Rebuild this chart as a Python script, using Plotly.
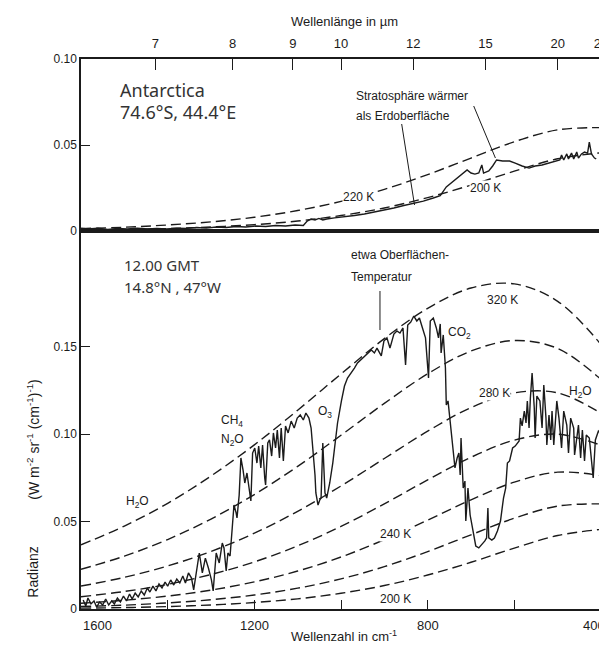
import plotly.graph_objects as go

# ---------------- data ----------------
# Planck reference curves, wavenumber grid in cm^-1
wn_grid = [1600, 1500, 1400, 1300, 1200, 1100, 1000, 900, 800, 700, 600, 500, 400]
planck_320 = [0.0367, 0.0474, 0.0604, 0.0760, 0.0938, 0.1136, 0.1343, 0.1545, 0.1718, 0.1834, 0.1858, 0.1758, 0.1512]
planck_300 = [0.0227, 0.0302, 0.0397, 0.0514, 0.0654, 0.0815, 0.0993, 0.1175, 0.1344, 0.1474, 0.1534, 0.1489, 0.1312]
planck_280 = [0.0131, 0.0181, 0.0246, 0.0329, 0.0433, 0.0558, 0.0703, 0.0860, 0.1016, 0.1151, 0.1235, 0.1235, 0.1119]
planck_260 = [0.0070, 0.0100, 0.0141, 0.0197, 0.0269, 0.0361, 0.0472, 0.0601, 0.0738, 0.0867, 0.0965, 0.0999, 0.0936]
planck_240 = [0.0033, 0.0050, 0.0074, 0.0108, 0.0155, 0.0217, 0.0297, 0.0396, 0.0508, 0.0624, 0.0725, 0.0782, 0.0762]
planck_220 = [0.0014, 0.0022, 0.0035, 0.0053, 0.0080, 0.0119, 0.0172, 0.0242, 0.0328, 0.0424, 0.0519, 0.0588, 0.0601]
planck_200 = [0.0005, 0.0008, 0.0014, 0.0023, 0.0037, 0.0058, 0.0090, 0.0134, 0.0194, 0.0267, 0.0348, 0.0420, 0.0455]

# Antarctic spectrum (upper panel)
ant_wn = [1600, 1584, 1561, 1538, 1516, 1493, 1470, 1447, 1425, 1402, 1379, 1356, 1333, 1311, 1288,
          1265, 1242, 1220, 1197, 1174, 1151, 1128, 1106, 1087, 1078, 1069, 1060, 1051, 1042, 1033,
          1015, 992, 969, 946, 923, 901, 878, 855, 832, 810, 787, 771, 757, 746, 734,
          725, 716, 709, 700, 691, 682, 675, 671, 659, 650, 641, 627, 611, 598, 582,
          566, 552, 536, 520, 507, 495, 491, 486, 479, 475, 468, 463, 456, 452, 445,
          438, 431, 427, 422, 415, 411]
ant_rad = [0.0017, 0.0012, 0.0017, 0.0009, 0.0015, 0.0012, 0.0017, 0.0012, 0.0015, 0.0012, 0.0017, 0.0015, 0.0020, 0.0017, 0.0023,
           0.0020, 0.0026, 0.0023, 0.0029, 0.0026, 0.0032, 0.0029, 0.0035, 0.0032, 0.0058, 0.0070, 0.0064, 0.0073, 0.0064, 0.0070,
           0.0076, 0.0081, 0.0090, 0.0099, 0.0110, 0.0122, 0.0134, 0.0148, 0.0160, 0.0174, 0.0192, 0.0206, 0.0256, 0.0279, 0.0302,
           0.0320, 0.0343, 0.0355, 0.0337, 0.0331, 0.0337, 0.0384, 0.0337, 0.0349, 0.0378, 0.0413, 0.0407, 0.0407, 0.0395, 0.0378,
           0.0366, 0.0378, 0.0384, 0.0395, 0.0407, 0.0413, 0.0442, 0.0413, 0.0448, 0.0419, 0.0453, 0.0419, 0.0459, 0.0424, 0.0448,
           0.0459, 0.0453, 0.0517, 0.0448, 0.0424, 0.0419]

# Tropical spectrum (lower panel), 12.00 GMT 14.8N 47W
trop_wn = [1595, 1589, 1584, 1577, 1570, 1564, 1557, 1550, 1543, 1536, 1529, 1523, 1516, 1509, 1502,
           1495, 1488, 1482, 1475, 1468, 1461, 1454, 1447, 1441, 1434, 1427, 1420, 1413, 1406, 1400,
           1393, 1386, 1379, 1372, 1365, 1359, 1352, 1345, 1340, 1333, 1327, 1320, 1313, 1306, 1299,
           1295, 1288, 1281, 1274, 1270, 1265, 1261, 1256, 1251, 1247, 1242, 1240, 1235, 1231, 1226,
           1222, 1217, 1213, 1208, 1204, 1199, 1194, 1190, 1185, 1181, 1176, 1174, 1169, 1165, 1160,
           1156, 1151, 1147, 1142, 1138, 1133, 1128, 1122, 1115, 1108, 1101, 1094, 1087, 1081, 1074,
           1069, 1065, 1060, 1058, 1053, 1049, 1046, 1042, 1037, 1033, 1026, 1019, 1015, 1008, 999,
           992, 985, 976, 969, 962, 955, 946, 939, 930, 923, 917, 907, 901, 894, 887,
           878, 871, 864, 857, 851, 846, 839, 832, 825, 819, 812, 805, 798, 794, 787,
           780, 775, 771, 769, 764, 759, 757, 753, 748, 741, 737, 732, 728, 725, 723,
           718, 714, 712, 707, 702, 696, 689, 682, 675, 668, 664, 661, 659, 652, 646,
           639, 632, 625, 620, 616, 611, 604, 598, 589, 586, 582, 577, 573, 570, 566,
           563, 559, 554, 552, 548, 541, 536, 532, 527, 525, 520, 516, 513, 509, 502,
           497, 491, 486, 479, 475, 470, 463, 461, 452, 447, 443, 438, 434, 427, 422,
           418, 413, 406, 402]
trop_rad = [0.0051, 0.0017, 0.0063, 0.0029, 0.0046, 0.0011, 0.0040, 0.0023, 0.0057, 0.0023, 0.0046, 0.0029, 0.0063, 0.0040, 0.0074,
            0.0046, 0.0086, 0.0057, 0.0091, 0.0069, 0.0103, 0.0080, 0.0120, 0.0097, 0.0131, 0.0103, 0.0143, 0.0120, 0.0154, 0.0131,
            0.0166, 0.0137, 0.0171, 0.0149, 0.0189, 0.0149, 0.0206, 0.0177, 0.0109, 0.0234, 0.0320, 0.0206, 0.0291, 0.0234, 0.0166,
            0.0103, 0.0320, 0.0263, 0.0377, 0.0349, 0.0217, 0.0320, 0.0303, 0.0463, 0.0594, 0.0549, 0.0520, 0.0651, 0.0863, 0.0794,
            0.0720, 0.0777, 0.0703, 0.0617, 0.0891, 0.0920, 0.0834, 0.0931, 0.0806, 0.0937, 0.0749, 0.0709, 0.0949, 0.0966, 0.0874,
            0.1006, 0.0920, 0.1023, 0.0863, 0.1034, 0.0846, 0.1046, 0.1006, 0.1074, 0.1034, 0.1091, 0.1109, 0.1080, 0.1120, 0.1091,
            0.1034, 0.0920, 0.0766, 0.0663, 0.0594, 0.0623, 0.0634, 0.0949, 0.0663, 0.0634, 0.0720, 0.0834, 0.0920, 0.1063, 0.1189,
            0.1274, 0.1320, 0.1349, 0.1377, 0.1406, 0.1423, 0.1446, 0.1463, 0.1480, 0.1463, 0.1491, 0.1446, 0.1531, 0.1549, 0.1491,
            0.1571, 0.1589, 0.1577, 0.1606, 0.1394, 0.1623, 0.1640, 0.1674, 0.1646, 0.1663, 0.1606, 0.1549, 0.1320, 0.1646, 0.1663,
            0.1606, 0.1549, 0.1629, 0.1463, 0.1566, 0.1377, 0.1166, 0.1189, 0.1074, 0.0920, 0.0806, 0.0863, 0.0891, 0.0766, 0.0977,
            0.0691, 0.0731, 0.0503, 0.0691, 0.0537, 0.0446, 0.0360, 0.0349, 0.0366, 0.0389, 0.0406, 0.0577, 0.0406, 0.0394, 0.0406,
            0.0446, 0.0503, 0.0634, 0.0691, 0.0834, 0.0846, 0.0920, 0.0931, 0.0960, 0.1091, 0.1046, 0.1131, 0.1063, 0.1189, 0.1034,
            0.1206, 0.1349, 0.1149, 0.0977, 0.1217, 0.1189, 0.1034, 0.1280, 0.1091, 0.0937, 0.1109, 0.0966, 0.1131, 0.0937, 0.1189,
            0.1091, 0.0920, 0.1131, 0.1051, 0.0891, 0.1091, 0.1034, 0.0880, 0.1051, 0.0863, 0.1023, 0.0846, 0.0994, 0.0977, 0.0834,
            0.0749, 0.0966, 0.1017, 0.1006]

# axis ticks
wl_tick_um = [7, 8, 9, 10, 12, 15, 20, 25]
wn_ticks = [1600, 1400, 1200, 1000, 800, 600, 400]
wn_labels = [1600, 1200, 800, 400]
top_yticks = [0, 0.05, 0.10]
top_ylabels = ["0", "0.05", "0.10"]
bot_yticks = [0, 0.05, 0.10, 0.15]
bot_ylabels = ["0", "0.05", "0.10", "0.15"]

if len(trop_wn) != len(trop_rad) or len(ant_wn) != len(ant_rad):
    raise SystemExit(f"length mismatch {len(trop_wn)} {len(trop_rad)} {len(ant_wn)} {len(ant_rad)}")

# ---------------- layout geometry ----------------
W, H = 607, 645
L, R, T, B = 73, 7, 51, 44
PW, PH = W - L - R, H - T - B
split = (H - B - 223) / PH
ink = "#1b1b1b"
FONT = "Liberation Sans"


def px(x):
    return (x - L) / PW


def py(y):
    return (H - B - y) / PH


fig = go.Figure()
dash = "10px,5px"
for vals in [planck_320, planck_300, planck_280, planck_260, planck_240, planck_220, planck_200]:
    fig.add_trace(go.Scatter(x=wn_grid, y=vals, mode="lines", xaxis="x", yaxis="y",
                             line=dict(color=ink, width=1.4, dash=dash, shape="spline"),
                             hoverinfo="skip", showlegend=False))
fig.add_trace(go.Scatter(x=trop_wn, y=trop_rad, mode="lines", xaxis="x", yaxis="y",
                         line=dict(color=ink, width=1.4), showlegend=False))
for vals in [planck_220, planck_200]:
    fig.add_trace(go.Scatter(x=wn_grid, y=vals, mode="lines", xaxis="x2", yaxis="y2",
                             line=dict(color=ink, width=1.4, dash=dash, shape="spline"),
                             hoverinfo="skip", showlegend=False))
fig.add_trace(go.Scatter(x=ant_wn, y=ant_rad, mode="lines", xaxis="x2", yaxis="y2",
                         line=dict(color=ink, width=1.4), showlegend=False))

axis_common = dict(showline=True, linecolor=ink, linewidth=1.5, mirror=True, showgrid=False,
                   zeroline=False, ticks="inside", tickcolor=ink, tickwidth=1.3,
                   tickfont=dict(family=FONT, size=12, color=ink))

fig.update_layout(
    width=W, height=H,
    margin=dict(l=L, r=R, t=T, b=B),
    paper_bgcolor="white", plot_bgcolor="white",
    showlegend=False,
    xaxis=dict(axis_common, domain=[0, 1], anchor="y", range=[1600, 400],
               tickvals=wn_ticks, showticklabels=False, ticklen=9),
    yaxis=dict(axis_common, domain=[0, split], anchor="x", range=[0, 0.216],
               tickvals=bot_yticks, ticktext=bot_ylabels, ticklen=9),
    xaxis2=dict(axis_common, domain=[0, 1], anchor="y2", range=[1600, 400], side="top",
                tickvals=[10000 / w for w in wl_tick_um], ticktext=[str(w) for w in wl_tick_um],
                ticklen=11, ticklabelstandoff=4, tickfont=dict(family=FONT, size=13, color=ink)),
    yaxis2=dict(axis_common, domain=[split, 1], anchor="x2", range=[0, 0.10],
                tickvals=top_yticks, ticktext=top_ylabels, ticklen=9),
)

ann = []


def text(x, y, s, size=12, anchor="left", family=FONT, color=ink, bg=None, angle=0):
    d = dict(x=px(x), y=py(y), xref="paper", yref="paper", text=s, showarrow=False,
             xanchor=anchor, yanchor="middle", textangle=angle,
             font=dict(family=family, size=size, color=color))
    if bg:
        d["bgcolor"] = bg
        d["borderpad"] = 0
    ann.append(d)


# bottom tick labels
for v in wn_labels:
    anchor = "left" if v == 1600 else ("right" if v == 400 else "center")
    shift = 6 if v == 400 else 0
    ann.append(dict(x=v, y=py(617), xref="x", yref="paper", text=str(v), showarrow=False,
                    xanchor=anchor, yanchor="middle", xshift=shift,
                    font=dict(family=FONT, size=13, color=ink)))

text(340, 14, "Wellenlänge in µm", 13, "center")
text(340, 628, "Wellenzahl in cm<sup>-1</sup>", 13, "center")
text(24, 564, "Radianz", 14, "center", angle=-90)
text(24, 432, "(W m<sup>-2</sup> sr<sup>-1</sup> (cm<sup>-1</sup>)<sup>-1</sup>)", 14, "center", angle=-90)

text(110, 82, "Antarctica", 18, family="Noto Sans", color="#333")
text(110, 104, "74.6°S, 44.4°E", 18, family="Noto Sans", color="#333")
text(350, 88, "Stratosphäre wärmer", 12)
text(350, 108, "als Erdoberfläche", 12)
text(338, 189, "220 K", 12, bg="white")
text(466, 180, "200 K", 12, bg="white")

text(115, 257, "12.00 GMT", 15, family="Noto Sans", color="#333")
text(115, 279, "14.8°N , 47°W", 15, family="Noto Sans", color="#333")
text(345, 247, "etwa Oberflächen-", 12)
text(345, 269, "Temperatur", 12)
text(482, 292, "320 K", 12)
text(443, 325, "CO<sub>2</sub>", 12)
text(475, 385, "280 K", 12, bg="white")
text(566, 384, "H<sub>2</sub>O", 12)
text(311, 404, "O<sub>3</sub>", 12)
text(213, 413, "CH<sub>4</sub>", 12)
text(213, 432, "N<sub>2</sub>O", 12)
text(117, 494, "H<sub>2</sub>O", 12)
text(375, 526, "240 K", 12, bg="white")
text(375, 591, "200 K", 12, bg="white")

fig.update_layout(annotations=ann)

shapes = []
for (x0, y0, x1, y1) in [(398, 116, 411, 197), (471, 98, 493, 150), (376, 283, 376, 322)]:
    shapes.append(dict(type="line", xref="paper", yref="paper", x0=px(x0), y0=py(y0),
                       x1=px(x1), y1=py(y1), line=dict(color=ink, width=1)))
fig.update_layout(shapes=shapes)

fig.write_html("out.html")
